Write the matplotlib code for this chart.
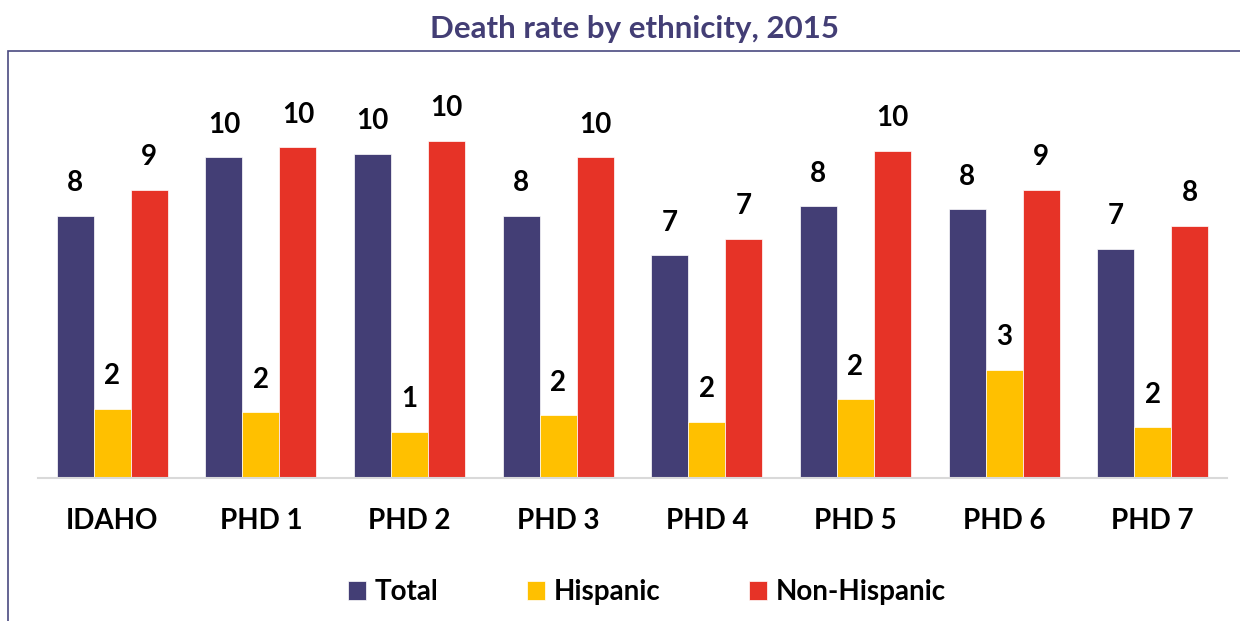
import matplotlib
matplotlib.use("Agg")
import matplotlib.pyplot as plt
import numpy as np
from matplotlib.patches import Rectangle

# Death rate per 1,000 by ethnicity, Idaho and its public health districts, 2015
regions = ["IDAHO", "PHD 1", "PHD 2", "PHD 3", "PHD 4", "PHD 5", "PHD 6", "PHD 7"]
total = [8.0, 9.8, 9.9, 8.0, 6.8, 8.3, 8.2, 7.0]
hispanic = [2.1, 2.0, 1.4, 1.9, 1.7, 2.4, 3.3, 1.54]
non_hispanic = [8.8, 10.1, 10.3, 9.8, 7.3, 10.0, 8.8, 7.7]

series = ["Total", "Hispanic", "Non-Hispanic"]
colors = ["#433e75", "#ffc000", "#e63327"]

plt.rcParams['font.family'] = ['Lato', 'DejaVu Sans']
plt.rcParams['font.weight'] = 'bold'

fig = plt.figure(figsize=(12.4, 6.21), dpi=100)
ax = fig.add_axes([38 / 1240, 1 - 477.5 / 621, 1189 / 1240, 392.4 / 621])

x = np.arange(len(regions))
w = 0.249
for i, (vals, name, col) in enumerate(zip([total, hispanic, non_hispanic], series, colors)):
    bars = ax.bar(x + (i - 1) * w, vals, w, color=col, label=name,
                  edgecolor="white", linewidth=0.5)
    ax.bar_label(bars, fmt="%.0f", padding=14, fontsize=20, fontweight="bold")

ax.set_xlim(-0.5, len(regions) - 0.5)
ax.set_ylim(0, 12)
ax.set_xticks(x)
ax.set_xticklabels(regions, fontsize=20, fontweight="bold")
ax.tick_params(axis="x", length=0, pad=22)
ax.set_yticks([])
for side in ["top", "right", "left"]:
    ax.spines[side].set_visible(False)
ax.spines["bottom"].set_color("#d9d9d9")
ax.spines["bottom"].set_linewidth(1.5)

# outer frame, open to the right and bottom like the source
fig.patches.append(Rectangle((7.5 / 1240, -0.05), 1.1, 1.05 - 51 / 621,
                             transform=fig.transFigure, fill=False,
                             edgecolor="#4a4a80", linewidth=1.2))

fig.text(635 / 1240, 1 - 29 / 621, "Death rate by ethnicity, 2015", ha="center",
         va="center", fontsize=22.5, fontweight="bold", color="#433e75")

fig.legend(loc="center", bbox_to_anchor=(647 / 1240, 1 - 592 / 621), ncol=3,
           frameon=False, fontsize=20, handlelength=0.65, handleheight=0.65,
           handletextpad=0.3, columnspacing=3.2)

fig.savefig("out.png", dpi=100)
